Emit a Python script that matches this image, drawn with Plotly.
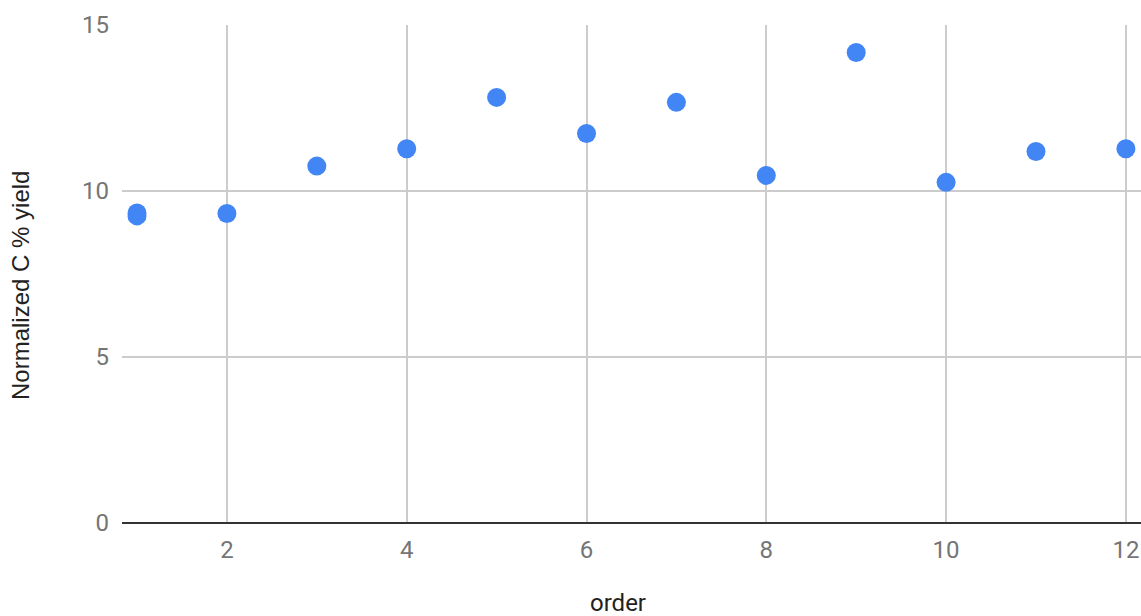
import plotly.graph_objects as go

order = [1, 1, 2, 3, 4, 5, 6, 7, 8, 9, 10, 11, 12]
yield_pct = [9.34, 9.25, 9.32, 10.75, 11.27, 12.82, 11.73, 12.67, 10.47, 14.17, 10.26, 11.19, 11.27]
x_ticks = [2, 4, 6, 8, 10, 12]
y_ticks = [0, 5, 10, 15]
x_title = "order"
y_title = "Normalized C % yield"

W, H = 1141, 616
L, R, T, B = 122, 0, 25, 93

fig = go.Figure()
fig.add_trace(go.Scatter(
    x=order, y=yield_pct, mode="markers",
    marker=dict(color="#4285F4", size=19, line=dict(width=0)),
    cliponaxis=False, showlegend=False,
))

fig.update_layout(
    width=W, height=H,
    margin=dict(l=L, r=R, t=T, b=B, pad=0),
    paper_bgcolor="white", plot_bgcolor="white",
    font=dict(family="Roboto", size=24, color="#757575"),
    xaxis=dict(
        range=[0.833, 12.168], tickvals=x_ticks, showgrid=True,
        gridcolor="#cccccc", gridwidth=2, zeroline=False, showline=False,
        ticks="", ticklabelstandoff=10,
        tickfont=dict(family="Roboto", size=24, color="#757575"),
    ),
    yaxis=dict(
        range=[0, 15], tickvals=y_ticks, showgrid=True,
        gridcolor="#cccccc", gridwidth=2, zeroline=True, zerolinecolor="#333333",
        zerolinewidth=2, showline=False, ticks="", ticklabelstandoff=12,
        tickfont=dict(family="Roboto", size=24, color="#757575"),
    ),
    annotations=[
        dict(text=x_title, xref="paper", yref="paper",
             x=(618 - L) / (W - L - R), y=-(603 - (H - B)) / (H - T - B),
             xanchor="center", yanchor="middle", showarrow=False,
             font=dict(family="Roboto", size=24, color="#222222")),
        dict(text=y_title, xref="paper", yref="paper", textangle=-90,
             x=(20 - L) / (W - L - R), y=((H - B) - 286) / (H - T - B),
             xanchor="center", yanchor="middle", showarrow=False,
             font=dict(family="Liberation Sans", size=24, color="#222222")),
    ],
)

fig.write_html(
    "out.html",
    config={"displayModeBar": False},
    post_script="document.body.style.margin='0px';document.body.style.overflow='hidden';",
)
